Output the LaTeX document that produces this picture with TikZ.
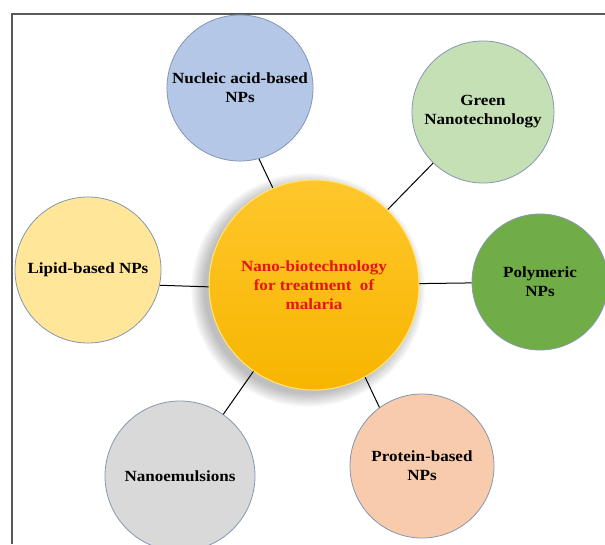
\documentclass[tikz,border=0pt]{standalone}
\usepackage{fontspec}
\setmainfont{Liberation Serif}
\newfontfamily\labelfont{Liberation Serif}[FakeStretch=1.1]

\definecolor{nucblue}{HTML}{B4C7E7}
\definecolor{greenlight}{HTML}{C5E0B4}
\definecolor{polygreen}{HTML}{70AD47}
\definecolor{lipidyellow}{HTML}{FFE699}
\definecolor{emulgray}{HTML}{D9D9D9}
\definecolor{protpeach}{HTML}{F8CBAD}
\definecolor{rimblue}{HTML}{8497B0}
\definecolor{goldtop}{HTML}{FFC72C}
\definecolor{goldbot}{HTML}{F7B500}

\tikzset{
  topic/.style={circle, draw=rimblue, line width=0.8pt, minimum size=#1,
    align=center, font=\labelfont\fontsize{15.5}{19}\selectfont\bfseries, inner sep=0pt},
  hub/.style={circle, draw={rgb,255:red,255;green,230;blue,120}, line width=1pt,
    top color=goldtop, bottom color=goldbot, minimum size=210pt, align=center,
    text={rgb,255:red,230;green,20;blue,20},
    font=\labelfont\fontsize{15.5}{19}\selectfont\bfseries},
  spoke/.style={line width=1pt, black}
}

\begin{document}
\begin{tikzpicture}[x=1pt, y=-1pt]
\useasboundingbox (0,0) rectangle (605,544);
% frame
\draw[line width=1.5pt, black!65] (605,14) -- (12,14) -- (12,544);
% soft shadow of the centre circle
\foreach \r in {0,2,...,14}
  \fill[black, opacity=0.035] (308,290) circle (104+\r*0.9);
% centre circle
\node[hub] (hub) at (314,285) {Nano-biotechnology\\for treatment\ \ of\\malaria};
% six circles
\node[topic=146pt, fill=nucblue] (nucleic) at (240,88) {Nucleic acid-based\\NPs};
\node[topic=142pt, fill=greenlight] (green) at (483,112) {Green\\Nanotechnology};
\node[topic=136pt, fill=polygreen] (polymeric) at (540,282) {Polymeric\\NPs};
\node[topic=146pt, fill=lipidyellow] (lipid) at (88,270) {Lipid-based NPs};
\node[topic=150pt, fill=emulgray] (emulsion) at (180,476) {Nanoemulsions};
\node[topic=144pt, fill=protpeach] (protein) at (422,466) {Protein-based\\NPs};
% spokes
\draw[spoke] (hub.113) -- (nucleic.-75);
\draw[spoke] (hub) -- (green);
\draw[spoke] (hub) -- (polymeric);
\draw[spoke] (hub.181) -- (lipid.-12);
\draw[spoke] (hub) -- (emulsion);
\draw[spoke] (hub.-61) -- (protein.126);
\end{tikzpicture}
\end{document}
